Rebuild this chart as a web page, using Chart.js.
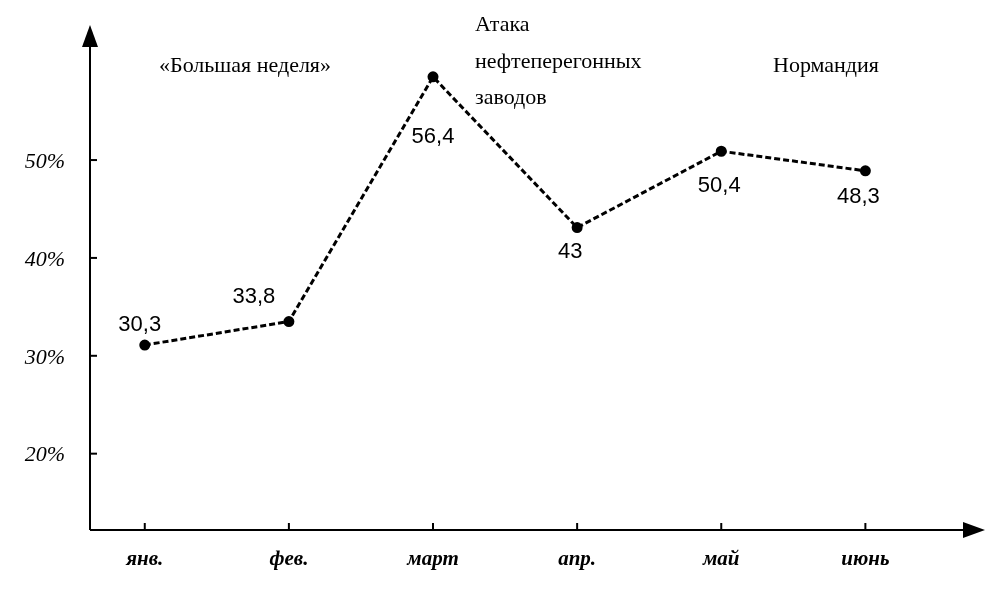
<!DOCTYPE html>
<html>
<head>
<meta charset="utf-8">
<script src="https://cdn.jsdelivr.net/npm/chart.js@4"></script>
<style>
  body { margin: 0; background: #fff; }
  #wrap { width: 1000px; height: 595px; }
</style>
</head>
<body>
<div id="wrap"><canvas id="chart"></canvas></div>
<script>
const months = ["янв.", "фев.", "март", "апр.", "май", "июнь"];
const values = [31.1, 33.5, 58.5, 43.1, 50.9, 48.9];
const valueLabels = ["30,3", "33,8", "56,4", "43", "50,4", "48,3"];
const yTicks = [20, 30, 40, 50];

// label offsets from the point, px
const labelOffsets = [[-5, -20], [-35, -25], [0, 60], [-7, 24], [-2, 35], [-7, 26]];

const axesPlugin = {
    id: "axes",
    afterDatasetsDraw(chart) {
        const ctx = chart.ctx;
        const x = chart.scales.x, y = chart.scales.y;
        const a = chart.chartArea;
        ctx.save();
        ctx.strokeStyle = "#000";
        ctx.fillStyle = "#000";
        ctx.lineWidth = 2;
        // axes
        ctx.beginPath();
        ctx.moveTo(a.left, a.bottom); ctx.lineTo(a.left, a.top + 10);
        ctx.moveTo(a.left, a.bottom); ctx.lineTo(a.right - 10, a.bottom);
        ctx.stroke();
        // arrows
        ctx.beginPath();
        ctx.moveTo(a.left, a.top); ctx.lineTo(a.left - 8, a.top + 22); ctx.lineTo(a.left + 8, a.top + 22); ctx.closePath();
        ctx.fill();
        ctx.beginPath();
        ctx.moveTo(a.right, a.bottom); ctx.lineTo(a.right - 22, a.bottom - 8); ctx.lineTo(a.right - 22, a.bottom + 8); ctx.closePath();
        ctx.fill();
        // y ticks
        ctx.font = "italic 22px 'Liberation Serif'";
        ctx.textAlign = "right";
        ctx.textBaseline = "middle";
        yTicks.forEach(v => {
            const py = y.getPixelForValue(v);
            ctx.beginPath(); ctx.moveTo(a.left, py); ctx.lineTo(a.left + 7, py); ctx.stroke();
            ctx.fillText(v + "%", a.left - 25, py + 2);
        });
        // x ticks
        ctx.font = "bold italic 21px 'Liberation Serif'";
        ctx.textAlign = "center";
        ctx.textBaseline = "top";
        months.forEach((m, i) => {
            const px = x.getPixelForValue(i);
            ctx.beginPath(); ctx.moveTo(px, a.bottom); ctx.lineTo(px, a.bottom - 7); ctx.stroke();
            ctx.fillText(m, px, a.bottom + 19);
        });
        // value labels
        ctx.font = "22px 'Liberation Sans Narrow', 'Liberation Sans'";
        ctx.textBaseline = "middle";
        valueLabels.forEach((t, i) => {
            const px = x.getPixelForValue(i), py = y.getPixelForValue(values[i]);
            ctx.fillText(t, px + labelOffsets[i][0], py + labelOffsets[i][1]);
        });
        // annotations
        ctx.font = "22px 'Liberation Serif'";
        ctx.fillText("«Большая неделя»", 245, 66);
        ctx.textAlign = "left";
        ctx.fillText("Атака", 475, 25);
        ctx.fillText("нефтеперегонных", 475, 62);
        ctx.fillText("заводов", 475, 98);
        ctx.fillText("Нормандия", 773, 66);
        ctx.restore();
    }
};

new Chart(document.getElementById("chart"), {
    type: "line",
    data: {
        datasets: [{
            data: values.map((v, i) => ({ x: i, y: v })),
            borderColor: "#000",
            borderWidth: 3,
            borderDash: [6, 3],
            pointRadius: 4,
            pointBackgroundColor: "#000",
            pointBorderColor: "#000",
            tension: 0
        }]
    },
    options: {
        responsive: true,
        maintainAspectRatio: false,
        animation: false,
        layout: { padding: { left: 90, right: 15, top: 25, bottom: 65 } },
        plugins: { legend: { display: false }, tooltip: { enabled: false } },
        scales: {
            x: { type: "linear", display: false, min: -0.38, max: 5.83 },
            y: { display: false, min: 12.2, max: 63.8 }
        }
    },
    plugins: [axesPlugin]
});
</script>
</body>
</html>
